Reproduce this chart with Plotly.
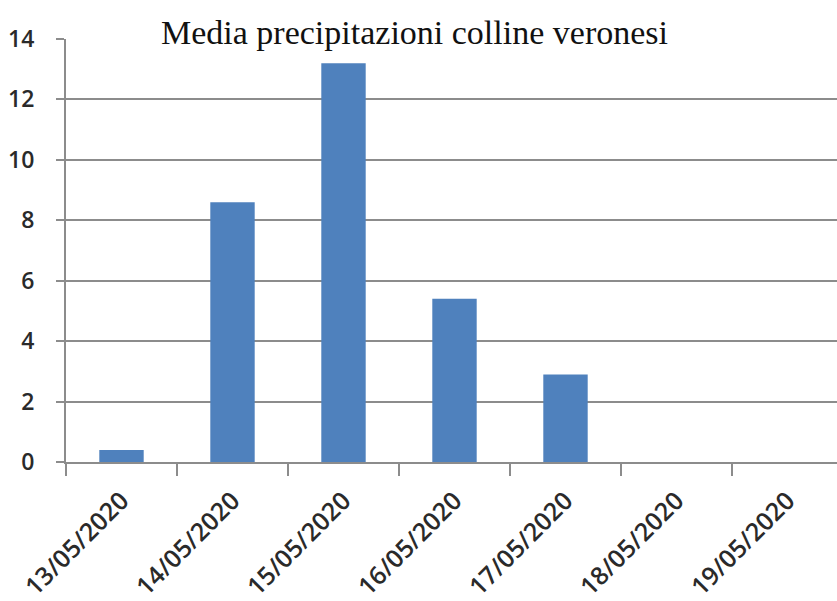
import plotly.graph_objects as go

dates = ["13/05/2020", "14/05/2020", "15/05/2020", "16/05/2020",
         "17/05/2020", "18/05/2020", "19/05/2020"]
rain = [0.4, 8.6, 13.2, 5.4, 2.9, 0, 0]
y_ticks = [0, 2, 4, 6, 8, 10, 12, 14]
title_text = "Media precipitazioni colline veronesi"

grid = "#8c8c8c"
fig = go.Figure(go.Bar(x=dates, y=rain, marker=dict(color="#4F81BD", line=dict(width=0)),
                       width=0.4))

fig.update_layout(
    width=837, height=601,
    margin=dict(l=66, r=0, t=39, b=139),
    paper_bgcolor="white", plot_bgcolor="white",
    showlegend=False,
    font=dict(family="Open Sans", size=22, color="#2a2a2a"),
)
fig.update_xaxes(
    type="category", range=[-0.5, 6.446],
    tickson="boundaries", ticks="outside", ticklen=12, tickwidth=2, tickcolor=grid,
    showline=True, linecolor=grid, linewidth=2,
    showgrid=False, tickangle=-45, ticklabelstandoff=12,
    tickfont=dict(family="Open Sans", size=25, color="#2a2a2a", weight=600),
)
fig.update_yaxes(
    range=[0, 14], tickvals=y_ticks,
    ticks="outside", ticklen=8, tickwidth=2, tickcolor=grid,
    showline=True, linecolor=grid, linewidth=2,
    showgrid=True, gridcolor=grid, gridwidth=2,
    zeroline=False, ticklabelstandoff=17,
    tickfont=dict(family="Open Sans", size=23, color="#2a2a2a", weight=600),
)
fig.add_shape(type="rect", xref="paper", yref="paper",
              x0=0.045, x1=1.01, y0=0.985, y1=1.03,
              fillcolor="white", line=dict(width=0), layer="above")
fig.add_annotation(text=title_text, xref="paper", yref="paper",
                   x=(414 - 66) / 771, y=1.0, yshift=7, yanchor="middle",
                   xanchor="center", showarrow=False,
                   font=dict(family="Liberation Serif", size=34, color="#111111"))

fig.write_html("out.html", config={"displayModeBar": False},
               post_script="document.body.style.margin='0';document.body.style.overflow='hidden';")
